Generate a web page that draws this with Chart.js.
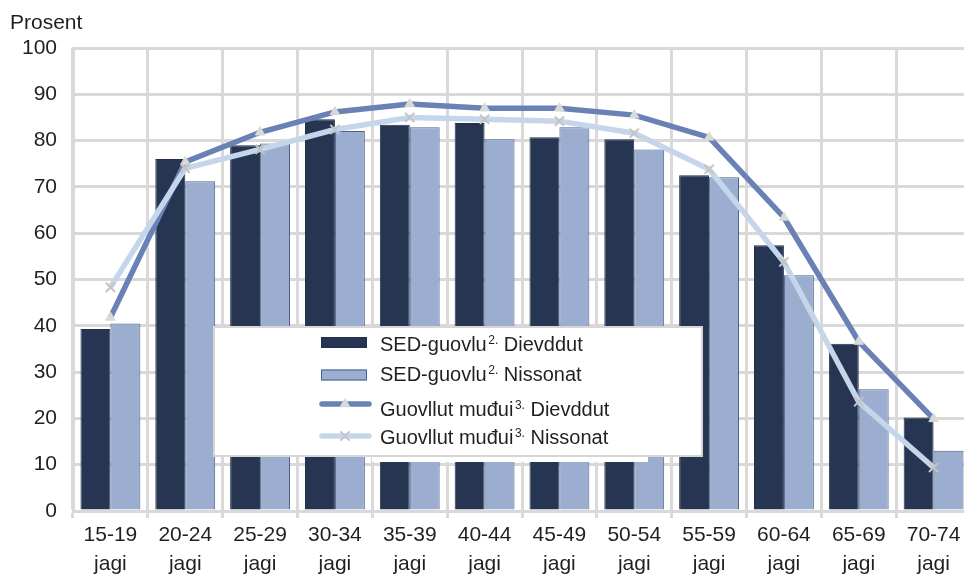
<!DOCTYPE html>
<html>
<head>
<meta charset="utf-8">
<script src="https://cdn.jsdelivr.net/npm/chart.js@4.4.1/dist/chart.umd.min.js"></script>
<style>
  html, body { margin: 0; padding: 0; background: #fff; overflow: hidden; width: 964px; height: 577px; }
  #wrap { width: 980px; height: 577px; }
</style>
</head>
<body>
<div id="wrap"><canvas id="c" width="980" height="577"></canvas></div>
<script>
// Age groups on the x axis (second label line is the unit word)
const ageGroups = ['15-19', '20-24', '25-29', '30-34', '35-39', '40-44',
                   '45-49', '50-54', '55-59', '60-64', '65-69', '70-74'];
const unitWord = 'jagi';

// Employment rate, per cent
const sedMen     = [39.3, 76.0, 79.0, 84.6, 83.4, 83.8, 80.7, 80.3, 72.5, 57.4, 36.1, 20.2];
const sedWomen   = [40.5, 71.2, 79.4, 82.1, 82.9, 80.3, 82.9, 78.1, 72.1, 50.9, 26.3, 13.0];
const ruralMen   = [41.8, 75.4, 81.8, 86.2, 87.9, 87.0, 87.0, 85.5, 80.7, 63.4, 36.6, 19.9];
const ruralWomen = [48.3, 74.0, 78.1, 82.4, 85.0, 84.6, 84.2, 81.6, 73.8, 53.8, 23.6, 9.4];

// Y axis tick values
const yTickValues = [0, 10, 20, 30, 40, 50, 60, 70, 80, 90, 100];

// Legend texts: main part, superscript, rest
const nameSedMen     = ['SED-guovlu', '2.', 'Dievddut'];
const nameSedWomen   = ['SED-guovlu', '2.', 'Nissonat'];
const nameRuralMen   = ['Guovllut muđui', '3.', 'Dievddut'];
const nameRuralWomen = ['Guovllut muđui', '3.', 'Nissonat'];

const yTitle = 'Prosent';

const FONT = '"Liberation Sans", Arial, sans-serif';
const TEXT = '#231f20';
const GRID = '#d9d9d9';

const labels = ageGroups.map(a => [a, unitWord]);

function drawRich(ctx, x, y, parts) {
  ctx.font = '20px ' + FONT;
  ctx.fillText(parts[0], x, y);
  x += ctx.measureText(parts[0]).width + 1.5;
  ctx.font = '12px ' + FONT;
  ctx.fillText(parts[1], x, y - 7);
  x += ctx.measureText(parts[1]).width;
  ctx.font = '20px ' + FONT;
  ctx.fillText(' ' + parts[2], x, y);
}

// Boxed legend inside the plot plus the axis caption
const boxLegend = {
  id: 'boxLegend',
  afterDraw(chart) {
    const ctx = chart.ctx;
    const ds = chart.data.datasets;
    ctx.save();
    ctx.fillStyle = '#fff';
    ctx.fillRect(372, 455, 276, 7);
    ctx.fillRect(214, 327, 488, 129);
    ctx.strokeStyle = '#d6d6d6';
    ctx.lineWidth = 2;
    ctx.strokeRect(214, 327, 488, 129);

    const rows = [
      { d: ds[2], base: 351, mid: 342.5 },
      { d: ds[3], base: 381, mid: 375 },
      { d: ds[1], base: 416, mid: 404 },
      { d: ds[0], base: 444, mid: 436 }
    ];
    rows.forEach(r => {
      const d = r.d;
      if (d.type === 'bar') {
        ctx.fillStyle = d.backgroundColor;
        ctx.fillRect(321, r.mid - 5.5, 46, 11);
        ctx.strokeStyle = d.borderColor;
        ctx.lineWidth = 1;
        ctx.strokeRect(321.5, r.mid - 5, 45, 10);
      } else {
        ctx.strokeStyle = d.borderColor;
        ctx.lineWidth = d.borderWidth;
        ctx.lineCap = 'round';
        ctx.beginPath();
        ctx.moveTo(322, r.mid);
        ctx.lineTo(369, r.mid);
        ctx.stroke();
        ctx.lineCap = 'butt';
        ctx.fillStyle = d.pointBackgroundColor;
        ctx.strokeStyle = d.pointBorderColor;
        ctx.lineWidth = d.pointBorderWidth;
        Chart.helpers.drawPoint(ctx, {
          pointStyle: d.pointStyle, radius: d.pointRadius,
          rotation: 0, borderWidth: d.pointBorderWidth
        }, 345, r.mid);
      }
      ctx.fillStyle = TEXT;
      ctx.textBaseline = 'alphabetic';
      ctx.textAlign = 'left';
      drawRich(ctx, 380, r.base, d.nameParts);
    });

    ctx.font = '21px ' + FONT;
    ctx.fillStyle = TEXT;
    ctx.fillText(yTitle, 10, 29);
    ctx.restore();
  }
};

new Chart(document.getElementById('c'), {
  data: {
    labels: labels,
    datasets: [
      {
        type: 'line', label: nameRuralWomen.join(' '), nameParts: nameRuralWomen,
        data: ruralWomen, order: 0,
        borderColor: '#c6d6ea', borderWidth: 5.5, tension: 0,
        pointStyle: 'crossRot', pointRadius: 6.5, pointBorderWidth: 2,
        pointBackgroundColor: '#c4c4c4', pointBorderColor: '#c4c4c4'
      },
      {
        type: 'line', label: nameRuralMen.join(' '), nameParts: nameRuralMen,
        data: ruralMen, order: 1,
        borderColor: '#6981b4', borderWidth: 5.5, tension: 0,
        pointStyle: 'triangle', pointRadius: 5.5, pointBorderWidth: 1,
        pointBackgroundColor: '#d9d9d9', pointBorderColor: '#d9d9d9'
      },
      {
        type: 'bar', label: nameSedMen.join(' '), nameParts: nameSedMen,
        data: sedMen, order: 2,
        backgroundColor: '#263552', borderColor: '#22304c', borderWidth: 1,
        categoryPercentage: 0.8, barPercentage: 1.0
      },
      {
        type: 'bar', label: nameSedWomen.join(' '), nameParts: nameSedWomen,
        data: sedWomen, order: 3,
        backgroundColor: '#9baed0', borderColor: '#4a6290', borderWidth: 1,
        categoryPercentage: 0.8, barPercentage: 1.0
      }
    ]
  },
  options: {
    responsive: false,
    animation: false,
    layout: { padding: { top: 48, left: 0, right: 9, bottom: 0 } },
    plugins: { legend: { display: false }, tooltip: { enabled: false } },
    scales: {
      x: {
        type: 'category',
        offset: true,
        grid: { color: GRID, lineWidth: 3, offset: true, drawTicks: true, tickLength: 7, tickColor: GRID },
        border: { color: GRID, width: 3 },
        ticks: {
          color: TEXT, padding: 3, maxRotation: 0, autoSkip: false,
          font: { family: FONT, size: 21, lineHeight: 1.36 }
        },
        afterFit(scale) { scale.height = 66; }
      },
      y: {
        min: 0, max: 100,
        afterBuildTicks(scale) { scale.ticks = yTickValues.map(v => ({ value: v })); },
        grid: { color: GRID, lineWidth: 3, drawTicks: false },
        border: { color: GRID, width: 3 },
        ticks: { color: TEXT, padding: 16, font: { family: FONT, size: 21 } },
        afterFit(scale) { scale.width = 73; }
      }
    }
  },
  plugins: [boxLegend]
});
</script>
</body>
</html>
